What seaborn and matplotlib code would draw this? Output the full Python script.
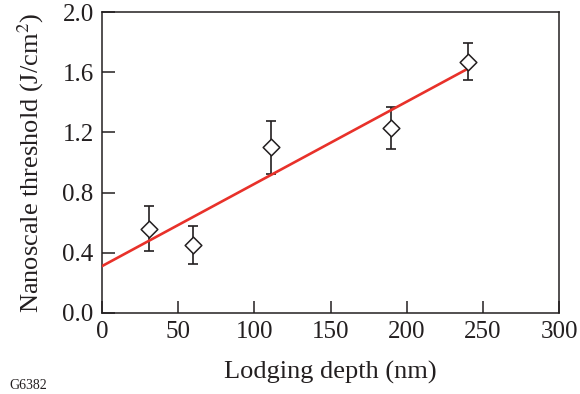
import numpy as np
import pandas as pd
import matplotlib
matplotlib.use("Agg")
import matplotlib.pyplot as plt
import seaborn as sns

# Measured thresholds versus lodging depth
depth_nm = [31, 60, 111, 190, 240]
threshold = [0.56, 0.45, 1.10, 1.23, 1.67]
threshold_err = [0.15, 0.125, 0.175, 0.14, 0.125]

x_ticks = [0, 50, 100, 150, 200, 250, 300]
y_ticks = [0.0, 0.4, 0.8, 1.2, 1.6, 2.0]

ink = "#231f20"
red = "#e8312a"

sns.set_theme(style="ticks")
plt.rcParams["font.family"] = ["Liberation Serif", "DejaVu Serif"]
plt.rcParams["mathtext.fontset"] = "stix"

df = pd.DataFrame({"depth": depth_nm, "thr": threshold, "err": threshold_err})

# Linear fit drawn from the origin out past the last point
slope, intercept = np.polyfit(df["depth"], df["thr"], 1)
fit_x = np.linspace(0, 242, 50)
fit = pd.DataFrame({"depth": fit_x, "thr": slope * fit_x + intercept})

fig = plt.figure(figsize=(5.8, 3.94), dpi=100)
ax = fig.add_axes([0.1759, 0.2056, 0.7879, 0.7639])

ax.errorbar(df["depth"], df["thr"], yerr=df["err"], fmt="none",
            ecolor=ink, elinewidth=1.2, capsize=3.6, capthick=1.2, zorder=2)
sns.lineplot(data=fit, x="depth", y="thr", color=red, linewidth=1.9,
             ax=ax, zorder=3)
sns.scatterplot(data=df, x="depth", y="thr", marker="D", s=72,
                facecolor="white", edgecolor=ink, linewidth=1.1,
                ax=ax, zorder=4)

ax.set_xlim(0, 300)
ax.set_ylim(0, 2.0)
ax.set_xticks(x_ticks)
ax.set_yticks(y_ticks)
ax.set_xticklabels([str(v) for v in x_ticks])
ax.set_yticklabels([f"{v:.1f}" for v in y_ticks])

for s in ax.spines.values():
    s.set_visible(True)
    s.set_linewidth(1.1)
    s.set_color(ink)

ax.tick_params(direction="in", length=9, width=1.1, color=ink,
               labelsize=18, labelcolor=ink, pad=6)

ax.set_xlabel("Lodging depth (nm)", fontsize=19, color=ink, labelpad=13)
ax.set_ylabel(r"Nanoscale threshold (J/cm$^2$)", fontsize=19, color=ink,
              labelpad=12)

fig.text(0.017, 0.012, "G6382", fontsize=10, color=ink)

fig.savefig("out.png", dpi=100)
